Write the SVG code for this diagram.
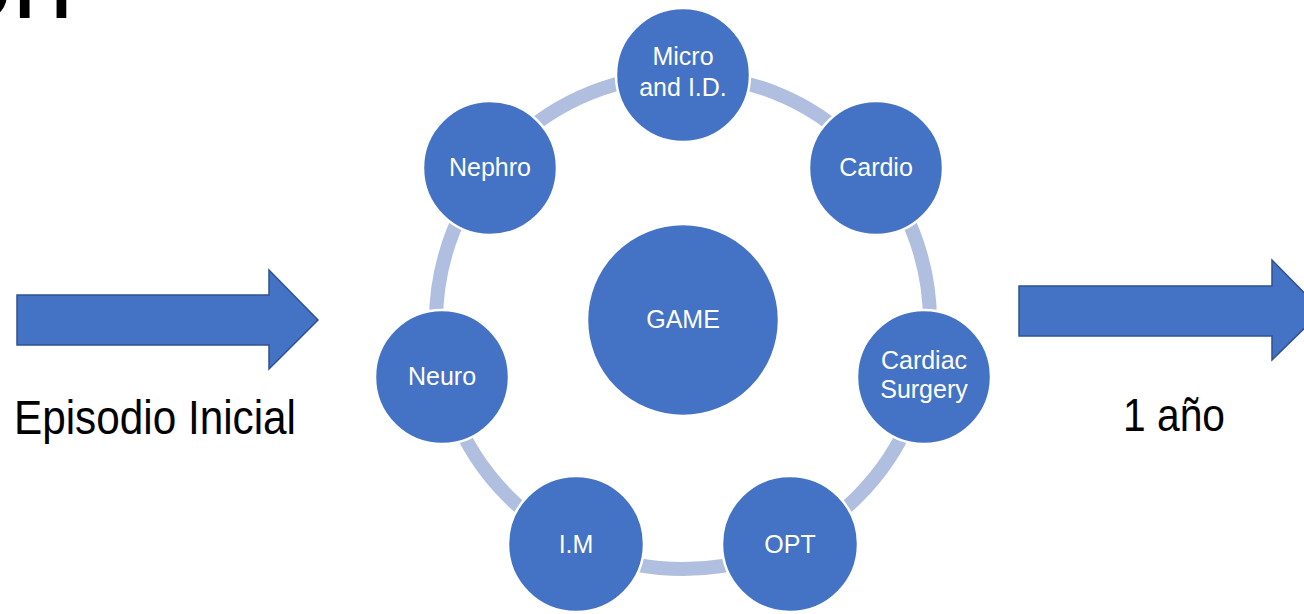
<svg xmlns="http://www.w3.org/2000/svg" width="1304" height="614" viewBox="0 0 1304 614">
<style>
.node{fill:#4472C4;stroke:#FFFFFF;stroke-width:2.5}
.lbl{font-family:"Liberation Sans",Arial,sans-serif;font-size:25px;fill:#FFFFFF;text-anchor:middle}
.big{font-family:"Liberation Sans",Arial,sans-serif;fill:#000000}
.arrow{fill:#4472C4;stroke:#2F528F;stroke-width:1.5}
</style>
<rect width="1304" height="614" fill="#FFFFFF"/>
<text class="big" x="-49" y="18" font-size="110">on</text>
<g id="connectors">
  <circle cx="683" cy="322" r="247" fill="none" stroke="#B0BEE0" stroke-width="14"/>
</g>
<g id="arrow-left"><path class="arrow" d="M17,295 H269 V270 L318,320 L269,369 V345 H17 Z"/></g>
<g id="arrow-right"><path class="arrow" d="M1019,286 H1272 V260 L1322,311 L1272,360 V336 H1019 Z"/></g>
<g id="game"><circle class="node" cx="683" cy="320" r="96"/><text class="lbl" x="683" y="328">GAME</text></g>
<g id="micro"><circle class="node" cx="683" cy="75" r="67"/><text class="lbl" x="683" y="65">Micro</text><text class="lbl" x="683" y="96">and I.D.</text></g>
<g id="cardio"><circle class="node" cx="876" cy="168" r="67"/><text class="lbl" x="876" y="176">Cardio</text></g>
<g id="cardiac-surgery"><circle class="node" cx="924" cy="377" r="67"/><text class="lbl" x="924" y="369">Cardiac</text><text class="lbl" x="924" y="398">Surgery</text></g>
<g id="opt"><circle class="node" cx="790" cy="544" r="68"/><text class="lbl" x="790" y="553">OPT</text></g>
<g id="im"><circle class="node" cx="576" cy="544" r="68"/><text class="lbl" x="576" y="553">I.M</text></g>
<g id="neuro"><circle class="node" cx="442" cy="377" r="67"/><text class="lbl" x="442" y="385">Neuro</text></g>
<g id="nephro"><circle class="node" cx="490" cy="168" r="67"/><text class="lbl" x="490" y="176">Nephro</text></g>
<text class="big" x="14" y="434" font-size="48" textLength="282" lengthAdjust="spacingAndGlyphs">Episodio Inicial</text>
<text class="big" x="1123" y="431" font-size="46" textLength="102" lengthAdjust="spacingAndGlyphs">1 año</text>
</svg>
